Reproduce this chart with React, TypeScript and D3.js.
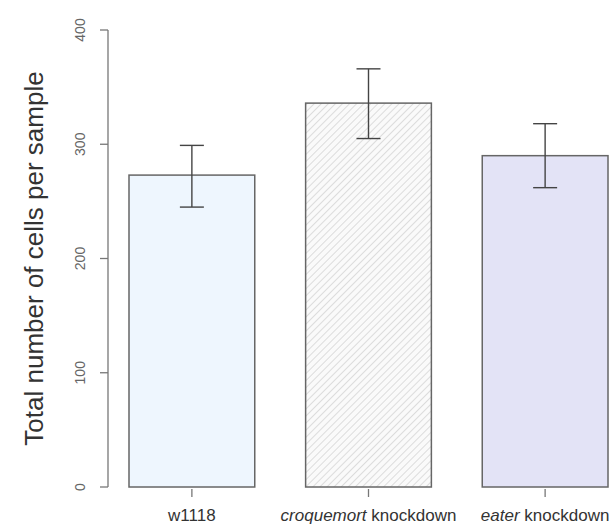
import * as d3 from "d3";

const categories = ["w1118", "croquemort", "eater"];
const italicPart = ["", "croquemort", "eater"];
const plainPart = ["w1118", " knockdown", " knockdown"];
const means = [273, 336, 290];
const errLow = [245, 305, 262];
const errHigh = [299, 366, 318];
const fills = ["#eef6fe", "url(#hatch)", "#e3e3f6"];
const yTicks = [0, 100, 200, 300, 400];

const W = 614;
const H = 530;

export default function App() {
  const y = d3.scaleLinear().domain([0, 400]).range([487, 30]);
  const x = d3
    .scaleBand<string>()
    .domain(categories)
    .range([129, 608])
    .paddingInner(0.288)
    .paddingOuter(0);
  const bw = x.bandwidth();
  const font = "Liberation Sans, Arial, sans-serif";
  const axisX = 108;

  return (
    <svg
      width={W}
      height={H}
      style={{ position: "absolute", left: 0, top: 0, background: "#fff" }}
      fontFamily={font}
    >
      <defs>
        <pattern
          id="hatch"
          patternUnits="userSpaceOnUse"
          width={5}
          height={5}
          patternTransform="rotate(45)"
        >
          <rect width={5} height={5} fill="#fafafa" />
          <line x1={0} y1={0} x2={0} y2={5} stroke="#cfcfcf" strokeWidth={1.4} />
        </pattern>
      </defs>

      {/* y axis */}
      <line x1={axisX} x2={axisX} y1={y(0)} y2={y(400)} stroke="#777" strokeWidth={1.3} />
      {yTicks.map((t) => (
        <g key={t}>
          <line x1={axisX - 8} x2={axisX} y1={y(t)} y2={y(t)} stroke="#777" strokeWidth={1.3} />
          <text
            transform={`translate(${axisX - 23},${y(t)}) rotate(-90)`}
            textAnchor="middle"
            fontSize={14}
            fill="#666"
          >
            {t}
          </text>
        </g>
      ))}
      <text
        transform={`translate(43,${(y(0) + y(400)) / 2}) rotate(-90)`}
        textAnchor="middle"
        fontSize={26}
        fill="#333"
      >
        Total number of cells per sample
      </text>

      {/* bars */}
      {categories.map((c, i) => {
        const x0 = x(c)!;
        const cx = x0 + bw / 2;
        return (
          <g key={c}>
            <rect
              x={x0}
              y={y(means[i])}
              width={bw}
              height={y(0) - y(means[i])}
              fill={fills[i]}
              stroke="#666"
              strokeWidth={1.5}
            />
            <line x1={cx} x2={cx} y1={y(errHigh[i])} y2={y(errLow[i])} stroke="#444" strokeWidth={1.4} />
            <line x1={cx - 12} x2={cx + 12} y1={y(errHigh[i])} y2={y(errHigh[i])} stroke="#444" strokeWidth={1.4} />
            <line x1={cx - 12} x2={cx + 12} y1={y(errLow[i])} y2={y(errLow[i])} stroke="#444" strokeWidth={1.4} />
            <line x1={cx} x2={cx} y1={y(0) + 2} y2={y(0) + 10} stroke="#777" strokeWidth={1.3} />
            <text x={cx} y={521} textAnchor="middle" fontSize={17} fill="#333">
              {italicPart[i] && <tspan fontStyle="italic">{italicPart[i]}</tspan>}
              <tspan>{plainPart[i]}</tspan>
            </text>
          </g>
        );
      })}
    </svg>
  );
}
